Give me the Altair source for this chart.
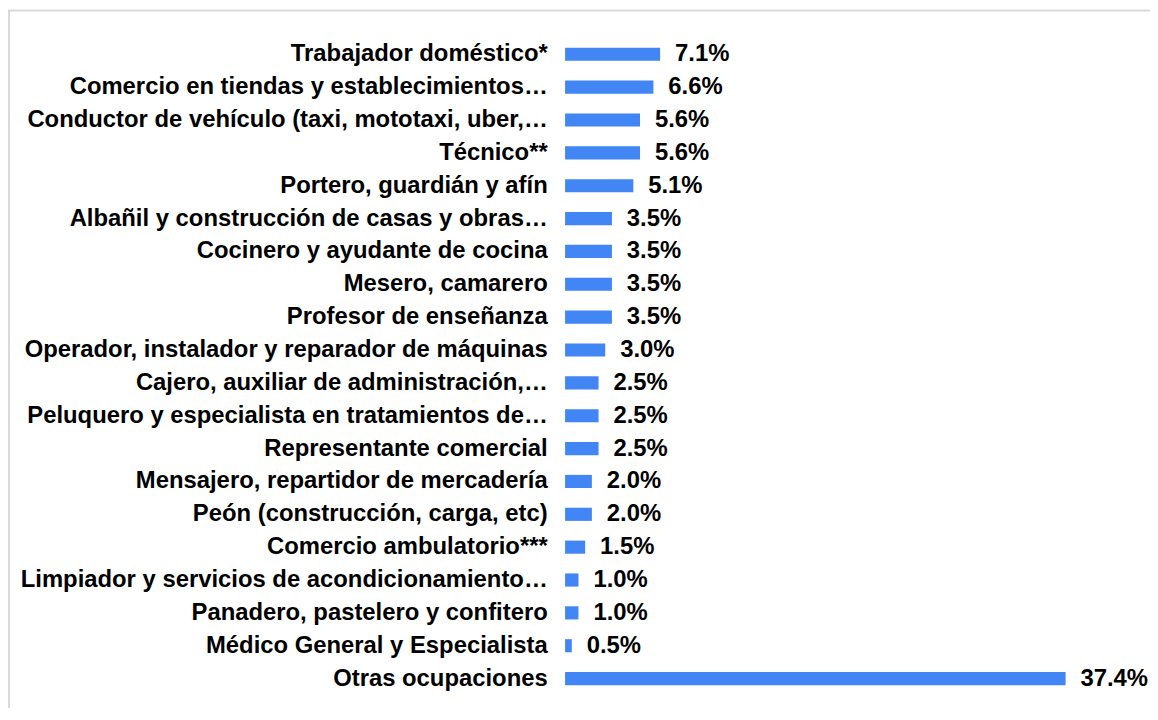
import altair as alt
import pandas as pd

categories = [
    "Trabajador doméstico*",
    "Comercio en tiendas y establecimientos…",
    "Conductor de vehículo (taxi, mototaxi, uber,…",
    "Técnico**",
    "Portero, guardián y afín",
    "Albañil y construcción de casas y obras…",
    "Cocinero y ayudante de cocina",
    "Mesero, camarero",
    "Profesor de enseñanza",
    "Operador, instalador y reparador de máquinas",
    "Cajero, auxiliar de administración,…",
    "Peluquero y especialista en tratamientos de…",
    "Representante comercial",
    "Mensajero, repartidor de mercadería",
    "Peón (construcción, carga, etc)",
    "Comercio ambulatorio***",
    "Limpiador y servicios de acondicionamiento…",
    "Panadero, pastelero y confitero",
    "Médico General y Especialista",
    "Otras ocupaciones",
]
values = [7.1, 6.6, 5.6, 5.6, 5.1, 3.5, 3.5, 3.5, 3.5, 3.0,
          2.5, 2.5, 2.5, 2.0, 2.0, 1.5, 1.0, 1.0, 0.5, 37.4]

df = pd.DataFrame({"ocupacion": categories, "pct": values})

FONT = "Liberation Sans"
FS = 24
BLUE = "#4285F4"

base = alt.Chart(df).encode(
    y=alt.Y(
        "ocupacion:N",
        sort=categories,
        title=None,
        scale=alt.Scale(paddingInner=0.6, paddingOuter=0.5),
        axis=alt.Axis(
            ticks=False, tickSize=0, domain=False, grid=False,
            labelPadding=18, labelFont=FONT, labelFontSize=FS,
            labelFontWeight="bold", labelColor="#000000", labelLimit=800,
        ),
    ),
)

bars = base.mark_bar(color=BLUE).encode(
    x=alt.X("pct:Q", axis=None, scale=alt.Scale(nice=False, zero=True)),
)

labels = base.transform_calculate(
    lbl="format(datum.pct, '.1f') + '%'"
).mark_text(
    align="left", baseline="middle", dx=15, font=FONT, fontSize=FS,
    fontWeight="bold", color="#000000",
).encode(
    x=alt.X("pct:Q"),
    text="lbl:N",
)

frame = alt.Chart(alt.Data(values=[{"k": 1}])).mark_rect(
    fillOpacity=0, stroke="#d9d9d9", strokeWidth=2,
).encode(
    x=alt.value(-560), x2=alt.value(2000),
    y=alt.value(-21), y2=alt.value(2000),
)

chart = alt.layer(frame, bars, labels).properties(
    width=504,
    height=675,
    background="white",
    autosize=alt.AutoSizeParams(type="none"),
    padding={"left": 561, "right": 85, "top": 21, "bottom": 4},
).configure_view(strokeWidth=0, strokeOpacity=0)

chart.save("out.html", embed_options={"renderer": "svg", "actions": False})
